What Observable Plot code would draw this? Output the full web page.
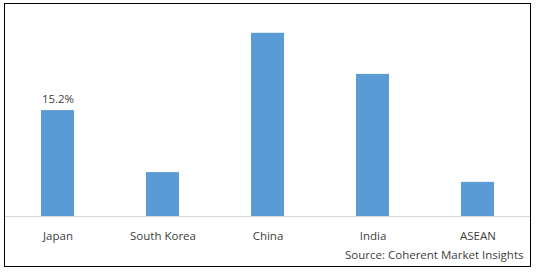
<!DOCTYPE html>
<html>
<head>
<meta charset="utf-8">
<script src="https://cdn.jsdelivr.net/npm/d3@7"></script>
<script src="https://cdn.jsdelivr.net/npm/@observablehq/plot@0.6"></script>
<style>
  html, body { margin: 0; padding: 0; background: #fff; }
  #wrap { position: relative; width: 538px; height: 272px; }
  #border { position: absolute; left: 4px; top: 3px; width: 525px; height: 262px; border: 1px solid #000; pointer-events: none; }
  #chart svg { display: block; }
</style>
</head>
<body>
<div id="wrap"><div id="chart"></div><div id="border"></div></div>
<script>
const regions = ["Japan", "South Korea", "China", "India", "ASEAN"];
const shares = [15.2, 6.3, 26.3, 20.4, 4.9];
const labelled = ["Japan"];
const labelText = ["15.2%"];
const sourceText = ["Source: Coherent Market Insights"];

const data = regions.map((r, i) => ({region: r, value: shares[i]}));
const labels = labelled.map((r, i) => ({region: r, value: shares[regions.indexOf(r)], text: labelText[i]}));

const chart = Plot.plot({
  width: 538,
  height: 272,
  marginLeft: 4,
  marginRight: 7,
  marginTop: 7,
  marginBottom: 56,
  style: {fontFamily: "'Open Sans', sans-serif", fontSize: "11.5px", color: "#404040", background: "#fff"},
  x: {domain: regions, paddingInner: 0.687, paddingOuter: 0.344, align: 0.5, label: null, tickSize: 0, tickPadding: 15},
  y: {domain: [0, 30], axis: null},
  marks: [
    Plot.barY(data, {x: "region", y: "value", fill: "#5B9BD5"}),
    Plot.ruleY([0], {stroke: "#D9D9D9", strokeWidth: 1}),
    Plot.text(labels, {x: "region", y: "value", text: "text", lineAnchor: "bottom", dy: -8, fill: "#404040", fontSize: 11.5}),
    Plot.text(sourceText, {frameAnchor: "bottom-right", text: d => d, textAnchor: "end", lineAnchor: "bottom", dx: -8, dy: 42, fill: "#404040", fontSize: 11.5})
  ]
});
document.getElementById("chart").appendChild(chart);
</script>
</body>
</html>
